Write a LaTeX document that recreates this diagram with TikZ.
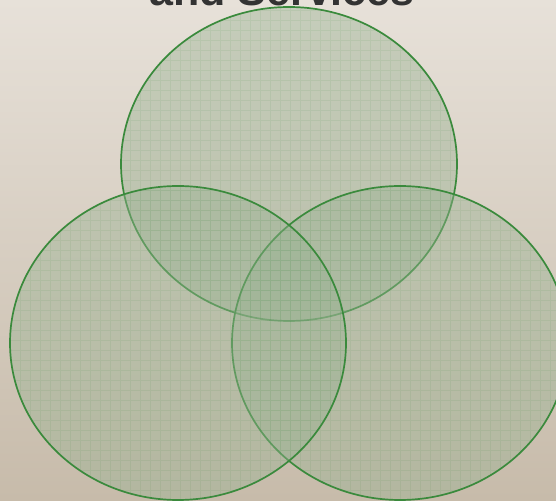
\documentclass[tikz,border=0pt]{standalone}
\usepackage{fontspec}
\setmainfont{Liberation Sans}

\definecolor{bgtop}{RGB}{231,225,217}
\definecolor{bgbot}{RGB}{199,187,170}
\definecolor{vennfill}{RGB}{152,178,146}
\definecolor{vennline}{RGB}{58,138,60}
\definecolor{titlegray}{RGB}{51,51,51}

\begin{document}
\begin{tikzpicture}[x=1pt, y=1pt,
	vennfill/.style={fill=vennfill, fill opacity=0.42},
	vennedge/.style={draw=vennline, line width=1.7pt},
	gridline/.style={draw=vennline, opacity=0.09, line width=0.7pt}]
	\useasboundingbox (0,0) rectangle (556,500);
	\clip (0,0) rectangle (556,500);
	\shade[top color=bgtop, bottom color=bgbot] (0,0) rectangle (556,500);
	\node[font=\bfseries\fontsize{43}{43}\selectfont, text=titlegray, anchor=base, inner sep=0pt] (title) at (282,494) {and Services};
	% top, right, left
	\foreach \cx/\cy in {289/336, 400/157, 178/157} {
		\fill[vennfill] (\cx,\cy) ellipse [x radius=168, y radius=157];
		\begin{scope}
			\clip (\cx,\cy) ellipse [x radius=168, y radius=157];
			\draw[gridline] (0,0) grid [step=10pt] (556,500);
		\end{scope}
		\draw[vennedge] (\cx,\cy) ellipse [x radius=168, y radius=157];
	}
\end{tikzpicture}
\end{document}
